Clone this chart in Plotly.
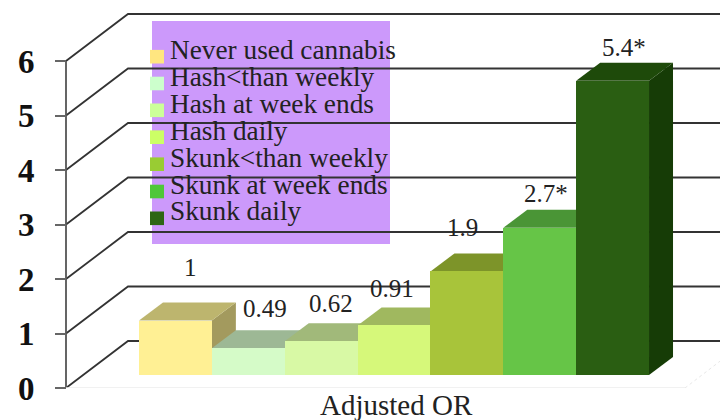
import plotly.graph_objects as go

# ---------- data ----------
categories = ["Never used cannabis", "Hash<than weekly", "Hash at week ends", "Hash daily",
              "Skunk<than weekly", "Skunk at week ends", "Skunk daily"]
values = [1, 0.49, 0.62, 0.91, 1.9, 2.7, 5.4]
value_labels = ["1", "0.49", "0.62", "0.91", "1.9", "2.7*", "5.4*"]
y_ticks = [0, 1, 2, 3, 4, 5, 6]
x_group_label = "Adjusted OR"

# ---------- style ----------
front_colors = ["#fff094", "#d5fbc8", "#d8f9a5", "#d6f87a", "#a8c43a", "#66c547", "#2a5e12"]
top_colors = ["#bdb56e", "#9db895", "#a1b97a", "#a0b85f", "#7d9429", "#4a9536", "#1e4a0a"]
side_colors = ["#a39a5e", "#9db088", "#99ad70", "#96ac58", "#6f8425", "#3d7c2c", "#163c06"]
swatch_colors = ["#ffe680", "#ccffcc", "#ccff99", "#ccff66", "#99cc33", "#4fc738", "#2d6614"]
label_offsets = [(15, 53), (17, 40), (10, 38), (-2, 37), (-4, 44), (6, 34), (11, 33)]

# The page has an 8px body margin; geometry below is in window pixels.
PAGE = 8
W, H = 728 - PAGE, 420 - PAGE
AXIS_BOTTOM = 388      # window row of value 0 on the left axis
BAR_BOTTOM = 375       # window row of value 0 at the bar fronts
PX_PER_UNIT = 54.5
BAR_LEFT = 139
BAR_W = 72.86
LEFT_AXIS_PX = 66
SERIF = "Liberation Serif"
TEXT = "#222222"
LINE = "#333333"


def xval(px):
    return (px - BAR_LEFT) / BAR_W - 0.5


def xpaper(px):
    return (px - PAGE) / W


def ypaper(py):
    return (AXIS_BOTTOM - py) / (AXIS_BOTTOM - PAGE)


x_range = [xval(PAGE), xval(728)]
fig = go.Figure()

# ---------- back wall grid on the axis layer ----------
wall_dx = 62 / BAR_W
wall_dy = 47 / PX_PER_UNIT
x0 = xval(LEFT_AXIS_PX)
for v in y_ticks:
    fig.add_trace(go.Scatter(
        x=[x0, x0 + wall_dx, x_range[1]], y=[v, v + wall_dy, v + wall_dy],
        mode="lines", line=dict(color=LINE, width=1.8), hoverinfo="skip",
        showlegend=False, xaxis="x", yaxis="y"))
fig.add_trace(go.Scatter(
    x=[x0, x0], y=[y_ticks[0], y_ticks[-1]], mode="lines",
    line=dict(color="#555555", width=1.8), hoverinfo="skip", showlegend=False,
    xaxis="x", yaxis="y"))
# floor edge
floor_end = xval(685)
fig.add_trace(go.Scatter(
    x=[x0, floor_end], y=[0, 0], mode="lines", line=dict(color="#ececec", width=1.5),
    hoverinfo="skip", showlegend=False, xaxis="x", yaxis="y", cliponaxis=False))
fig.add_trace(go.Scatter(
    x=[floor_end, x_range[1]], y=[0, wall_dy * 0.7], mode="lines",
    line=dict(color="#e8e8e8", width=1, dash="dot"),
    hoverinfo="skip", showlegend=False, xaxis="x", yaxis="y"))

# ---------- bar depth faces ----------
dx = 24 / BAR_W
dy = 18 / PX_PER_UNIT
for i, v in enumerate(values):
    fig.add_trace(go.Scatter(
        x=[i + 0.5, i + 0.5 + dx, i + 0.5 + dx, i + 0.5, i + 0.5],
        y=[0, dy, v + dy, v, 0], fill="toself", fillcolor=side_colors[i],
        mode="none", hoverinfo="skip", showlegend=False, xaxis="x", yaxis="y2"))
    fig.add_trace(go.Scatter(
        x=[i - 0.5, i - 0.5 + dx, i + 0.5 + dx, i + 0.5, i - 0.5],
        y=[v, v + dy, v + dy, v, v], fill="toself", fillcolor=top_colors[i],
        mode="none", hoverinfo="skip", showlegend=False, xaxis="x", yaxis="y2"))

# ---------- bar fronts ----------
fig.add_trace(go.Bar(
    x=list(range(len(values))), y=values, width=1, marker=dict(color=front_colors, line=dict(width=0)),
    hovertext=categories, hoverinfo="text+y", showlegend=False, xaxis="x", yaxis="y3"))

# ---------- annotations ----------
annotations = []
for i, (lab, v, (ox, oy)) in enumerate(zip(value_labels, values, label_offsets)):
    annotations.append(dict(
        x=i, y=v, xref="x", yref="y3", text=lab, showarrow=False, xshift=ox, yshift=oy,
        xanchor="center", yanchor="middle", font=dict(family=SERIF, size=25, color=TEXT)))

annotations.append(dict(
    x=xpaper(396), y=ypaper(405), xref="paper", yref="paper", text=x_group_label,
    showarrow=False, xanchor="center", yanchor="middle",
    font=dict(family=SERIF, size=29, color=TEXT)))

legend_rows = [50.5, 77.5, 104.5, 131, 158, 185, 211.5]
swatch_rows = [56.7, 83.5, 110.3, 137.2, 164.2, 191.5, 218.3]
shapes = [dict(type="rect", xref="paper", yref="paper", layer="below",
               x0=xpaper(152), x1=xpaper(390), y0=ypaper(244), y1=ypaper(21),
               fillcolor="#cc99fb", line=dict(width=0))]
for name, ty, sy, col in zip(categories, legend_rows, swatch_rows, swatch_colors):
    annotations.append(dict(
        x=xpaper(168), y=ypaper(ty), xref="paper", yref="paper", text=name.replace("<", "&lt;"),
        showarrow=False, xanchor="left", yanchor="middle", align="left",
        font=dict(family=SERIF, size=27.3, color=TEXT)))
    shapes.append(dict(type="rect", xref="paper", yref="paper", layer="above",
                       x0=xpaper(150), x1=xpaper(164), y0=ypaper(sy + 6.8), y1=ypaper(sy - 6.8),
                       fillcolor=col, line=dict(width=0)))

# ---------- layout ----------
fig.update_layout(
    width=W, height=H, margin=dict(l=0, r=0, t=0, b=420 - AXIS_BOTTOM, pad=0, autoexpand=False),
    paper_bgcolor="white", plot_bgcolor="rgba(0,0,0,0)", showlegend=False, bargap=0,
    xaxis=dict(range=x_range, domain=[0, 1], showgrid=False, zeroline=False, showline=False,
               showticklabels=False, ticks="", automargin=False, fixedrange=True),
    yaxis=dict(range=[0, (AXIS_BOTTOM - PAGE) / PX_PER_UNIT], anchor="free",
               position=(LEFT_AXIS_PX - PAGE) / W, automargin=False,
               showgrid=False, zeroline=False, showline=False,
               tickmode="array", tickvals=y_ticks, ticks="outside", ticklen=11, tickwidth=1.5,
               tickcolor="#666666", ticklabelstandoff=14,
               tickfont=dict(family=SERIF, size=33, color="#111111", weight="bold"), fixedrange=True),
    yaxis2=dict(range=[(BAR_BOTTOM - AXIS_BOTTOM) / PX_PER_UNIT, (BAR_BOTTOM - PAGE) / PX_PER_UNIT],
                overlaying="y", visible=False, anchor="x", fixedrange=True),
    yaxis3=dict(range=[(BAR_BOTTOM - AXIS_BOTTOM) / PX_PER_UNIT, (BAR_BOTTOM - PAGE) / PX_PER_UNIT],
                overlaying="y", visible=False, anchor="x", fixedrange=True),
    annotations=annotations, shapes=shapes,
)

fig.write_html("out.html")
